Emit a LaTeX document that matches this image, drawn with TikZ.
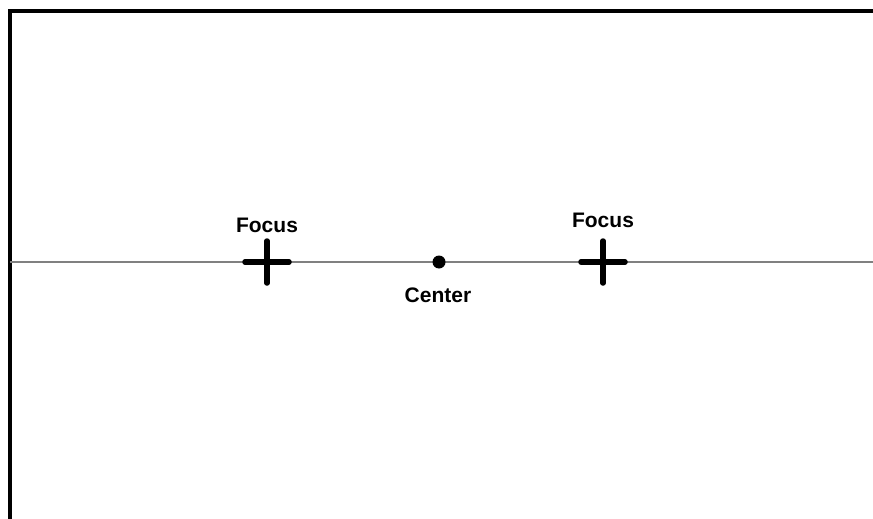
\documentclass[tikz,border=0pt]{standalone}
\usepackage{fontspec}
\setmainfont{Liberation Sans}
\usepackage{tikz}
\usetikzlibrary{positioning}

\begin{document}
\begin{tikzpicture}[x=1pt, y=-1pt,
    lbl/.style={font=\fontsize{21}{25}\selectfont\bfseries, inner sep=0pt, anchor=base},
    crossline/.style={line width=5.5pt, line cap=round},
    axisline/.style={gray, line width=1.3pt}]
                    \useasboundingbox (0,0) rectangle (873,519);
                    % Frame and axis
                    \coordinate (L) at (10,262);
                    \coordinate (R) at (873,262);
                    \draw[line width=3.5pt] (10,519) -- (10,11) -- (873,11);
                    \draw[axisline] (L) -- (R);

                    % Define nodes
                    \coordinate (F1) at (267,262);
                    \coordinate (F2) at (603,262);
                    \node (C) at (439,262) [circle, fill, inner sep=0pt, minimum size=13pt] {};
                    \node (F1lab) at (267,232) [lbl] {Focus};
                    \node (F2lab) at (603,227) [lbl] {Focus};
                    \node (Clab) at (438,302) [lbl] {Center};

                    % Draw the two foci as crosses
                    \foreach \f in {F1,F2} {
                        \draw[crossline] ([xshift=-22pt]\f) -- ([xshift=22pt]\f);
                        \draw[crossline] ([yshift=-21pt]\f) -- ([yshift=21pt]\f);
                    }
                \end{tikzpicture}
\end{document}
